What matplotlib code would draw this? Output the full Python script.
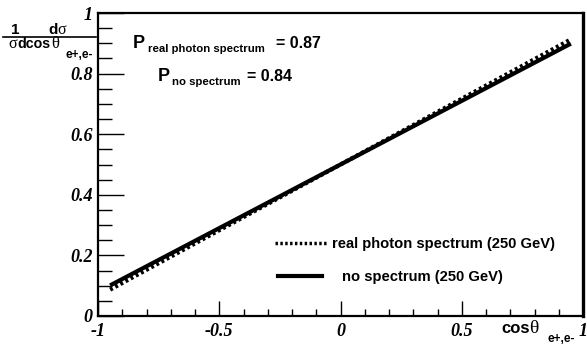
import matplotlib
matplotlib.use("Agg")
import matplotlib.pyplot as plt
from matplotlib.lines import Line2D
from matplotlib.ticker import MultipleLocator

# values
cos_theta = [-0.95, -0.5, 0.0, 0.5, 0.95]
real_photon = [0.087, 0.283, 0.50, 0.717, 0.913]
no_spectrum = [0.101, 0.29, 0.50, 0.71, 0.899]
labels = ["real photon spectrum (250 GeV)", "no spectrum (250 GeV)"]
p_real = 0.87
p_none = 0.84

W, H = 587, 344


def px(x, y):
    return x / W, 1 - y / H


fig = plt.figure(figsize=(W / 100, H / 100), dpi=100)
ax = fig.add_axes([98 / W, 1 - 316 / H, (583 - 98) / W, (316 - 13) / H])

dotted = (0, (0.7, 0.7))
ax.plot(cos_theta, real_photon, color="black", lw=3, ls=dotted,
        solid_capstyle="butt", dash_capstyle="butt")
ax.plot(cos_theta, no_spectrum, color="black", lw=3, solid_capstyle="butt")

ax.set_xlim(-1, 1)
ax.set_ylim(0, 1)
ax.xaxis.set_major_locator(MultipleLocator(0.5))
ax.xaxis.set_minor_locator(MultipleLocator(0.1))
ax.yaxis.set_major_locator(MultipleLocator(0.2))
ax.yaxis.set_minor_locator(MultipleLocator(0.05))
ax.tick_params(axis="x", which="major", direction="in", length=10.8, width=1, pad=5)
ax.tick_params(axis="x", which="minor", direction="in", length=5.4, width=1)
ax.tick_params(axis="y", which="major", direction="in", length=18.5, width=1, pad=4)
ax.tick_params(axis="y", which="minor", direction="in", length=10, width=1)
tfont = dict(family="Liberation Serif", weight="bold", style="italic", size=13)
ax.set_xticks([-1, -0.5, 0, 0.5, 1])
ax.set_xticklabels(["-1", "-0.5", "0", "0.5", "1"], **tfont)
ax.set_yticks([0, 0.2, 0.4, 0.6, 0.8, 1])
ax.set_yticklabels(["0", "0.2", "0.4", "0.6", "0.8", "1"], **tfont)
for s in ax.spines.values():
    s.set_linewidth(1.6)
ax.spines["right"].set_linewidth(2.4)

# legend, one entry per box so the texts can sit like the original
sans = dict(family="Liberation Sans", weight="bold")
lprop = dict(family="Liberation Sans", weight="bold", size=10.6)
h1 = Line2D([], [], color="black", lw=2.5, ls=dotted)
h2 = Line2D([], [], color="black", lw=3)
fig.legend([h1], [labels[0]], loc="center left", bbox_to_anchor=px(275, 244),
           frameon=False, prop=lprop, borderpad=0, borderaxespad=0,
           handlelength=3.5, handletextpad=0.4)
fig.legend([h2], [labels[1]], loc="center left", bbox_to_anchor=px(278, 277),
           frameon=False, prop=lprop, borderpad=0, borderaxespad=0,
           handlelength=3.0, handletextpad=1.35)

# polarisation labels
fig.text(*px(133, 48), "P", fontsize=13, **sans)
fig.text(*px(148, 52), "real photon spectrum", fontsize=8.2, **sans)
fig.text(*px(276, 48), f"= {p_real:.2f}", fontsize=11.5, **sans)
fig.text(*px(158, 81), "P", fontsize=13, **sans)
fig.text(*px(172, 85), "no spectrum", fontsize=8.2, **sans)
fig.text(*px(247, 81), f"= {p_none:.2f}", fontsize=11.5, **sans)

# y axis title as a fraction
fig.text(*px(11, 34), "1", fontsize=11, **sans)
fig.text(*px(48, 34), "d", fontsize=11, **sans)
fig.text(*px(57, 34), "σ", fontsize=11.5, family="Liberation Serif")
fig.add_artist(Line2D([3 / W, 96 / W], [1 - 36.5 / H, 1 - 36.5 / H], color="black", lw=1.2))
fig.text(*px(8, 48), "σ", fontsize=11.5, family="Liberation Serif")
fig.text(*px(17, 48), "dcos", fontsize=10.3, **sans)
fig.text(*px(51, 48), "θ", fontsize=12, family="Liberation Serif")
fig.text(*px(65, 58), "e+,e-", fontsize=8.5, **sans)

# x axis title
fig.text(*px(501, 333), "cos", fontsize=12, **sans)
fig.text(*px(529.5, 333), "θ", fontsize=14, family="Liberation Serif")
fig.text(*px(547, 342), "e+,e-", fontsize=8.5, **sans)

fig.savefig("out.png", dpi=100)
